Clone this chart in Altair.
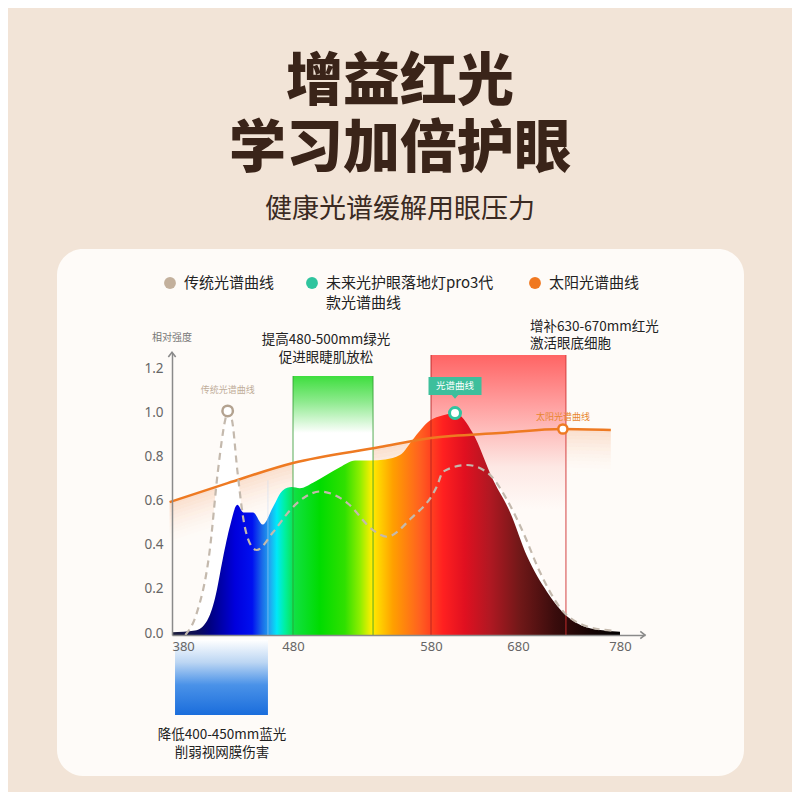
import altair as alt
import pandas as pd

# ---------------- data ----------------
# new lamp spectrum (nm, relative intensity)
lamp_nm = [380, 399, 409, 415.5, 422, 428, 434, 439, 447, 455, 463.5, 471.5, 479, 485, 494.5,
           514, 525, 536, 547, 557.5, 568, 579, 594, 607.6, 628, 651, 671, 689, 708.5, 728,
           747, 765, 780]
lamp_v = [0.012, 0.02, 0.065, 0.165, 0.345, 0.495, 0.59, 0.555, 0.555, 0.5, 0.58, 0.655, 0.67,
          0.665, 0.69, 0.76, 0.79, 0.79, 0.795, 0.815, 0.895, 0.97, 0.995, 1.005, 0.915, 0.705,
          0.555, 0.355, 0.195, 0.085, 0.035, 0.02, 0.015]

# traditional lamp spectrum
trad_nm = [391, 400.5, 411, 418, 424, 426, 429.5, 434, 439, 446, 450, 463.5, 477.5, 488.7,
           499.6, 519, 538, 548, 565, 587, 594, 621, 645, 667, 685, 701.5, 721, 747, 772]
trad_v = [0.0, 0.1, 0.375, 0.745, 0.975, 1.015, 0.975, 0.745, 0.525, 0.4, 0.385, 0.465, 0.565,
          0.625, 0.65, 0.6, 0.475, 0.445, 0.525, 0.675, 0.74, 0.77, 0.735, 0.615, 0.465, 0.285,
          0.125, 0.04, 0.02]

# sunlight spectrum
sun_nm = [378, 426, 480, 543, 580, 659, 724, 771]
sun_v = [0.602, 0.688, 0.779, 0.851, 0.892, 0.915, 0.933, 0.928]

x_ticks = [380, 480, 580, 680, 780]
y_ticks = [0.0, 0.2, 0.4, 0.6, 0.8, 1.0, 1.2]

legend_names = ["传统光谱曲线", ["未来光护眼落地灯pro3代", "款光谱曲线"], "太阳光谱曲线"]
legend_colors = ["#c3b09c", "#2fc49e", "#f07820"]

green_band = (480, 538, 1.173)   # nm from, nm to, top
red_band = (580, 727, 1.268)
blue_band = (382.5, 459.3, -0.022, -0.362)

trad_peak = (426, 1.015)
lamp_peak = (607.6, 1.005)
sun_mark = (724, 0.933)

FONT = "Noto Sans CJK SC"

lamp_df = pd.DataFrame({"nm": lamp_nm, "v": lamp_v})
trad_df = pd.DataFrame({"nm": trad_nm, "v": trad_v})
sun_df = pd.DataFrame({"nm": sun_nm, "v": sun_v})
one = pd.DataFrame({"a": [0]})

# ---------------- scales / axes ----------------
xscale = alt.Scale(domain=[380, 480, 580, 680, 780, 812],
                   range=[164, 285, 423, 510, 612, 637], nice=False, zero=False)
yscale = alt.Scale(domain=[0, 1.28], range=[627, 627 - 1.28 * 220.8], nice=False, zero=False)

xaxis = alt.Axis(values=x_ticks, offset=-157, domainColor="#8a8a8a", domainWidth=1.5,
                 ticks=False, grid=False, title=None, labelFont="Noto Sans",
                 labelFontSize=13, labelColor="#666666", labelPadding=5, format="d", zindex=2)
yaxis = alt.Axis(values=y_ticks, offset=-164, domainColor="#8a8a8a", domainWidth=1.5,
                 ticks=False, grid=False, title=None, labelFont="Noto Sans",
                 labelFontSize=13.5, labelColor="#666666", labelPadding=9, format=".1f",
                 labelOffset=-2, zindex=2)

X = alt.X("nm:Q", scale=xscale, axis=xaxis)
Y = alt.Y("v:Q", scale=yscale, axis=yaxis)


def txt(text, x, y, size, color="#222222", weight="normal", align="center", lh=None):
    kw = dict(text=text, font=FONT, fontSize=size, color=color, fontWeight=weight,
              align=align, baseline="middle")
    if lh:
        kw["lineHeight"] = lh
    return alt.Chart(one).mark_text(**kw).encode(x=alt.value(x), y=alt.value(y))


layers = []

# card
layers.append(alt.Chart(one).mark_rect(cornerRadius=26, color="#fefbf8").encode(
    x=alt.value(49), x2=alt.value(736), y=alt.value(241), y2=alt.value(768)))

# titles
layers.append(txt("增益红光", 392, 75, 57, "#3a2419", 900))
layers.append(txt("学习加倍护眼", 392, 142, 57, "#3a2419", 900))
layers.append(txt("健康光谱缓解用眼压力", 392, 202, 27, "#3a2a22"))

# legend
lx = [162, 304, 527]
for i in range(3):
    layers.append(alt.Chart(one).mark_point(filled=True, size=140, opacity=1,
                                            color=legend_colors[i]).encode(
        x=alt.value(lx[i]), y=alt.value(275)))
    layers.append(txt(legend_names[i], lx[i] + 14, 275, 15, "#222222", align="left", lh=20))

# peach glow below the sun curve
nb = 12
for k in range(nb):
    a, b = 0.016 * k, 0.016 * (k + 1)
    layers.append(alt.Chart(sun_df).transform_calculate(
        v2=f"datum.v - {b}", vt=f"datum.v - {a}").mark_area(
        color="#f8c4a2", opacity=0.5 * (1 - k / nb) ** 1.6, interpolate="monotone").encode(
        x=X, y=alt.Y("vt:Q", scale=yscale, axis=yaxis), y2="v2:Q"))

# green / red / blue highlight boxes
green_df = pd.DataFrame({"nm": [green_band[0]], "nm2": [green_band[1]], "v": [green_band[2]], "v2": [0]})
red_df = pd.DataFrame({"nm": [red_band[0]], "nm2": [red_band[1]], "v": [red_band[2]], "v2": [0]})
blue_df = pd.DataFrame({"nm": [blue_band[0]], "nm2": [blue_band[1]], "v": [blue_band[2]], "v2": [blue_band[3]]})

vgrad = lambda stops: alt.Gradient(gradient="linear", x1=0, y1=0, x2=0, y2=1,
                                   stops=[alt.GradientStop(offset=o, color=c) for o, c in stops])

layers.append(alt.Chart(green_df).mark_rect(color=vgrad([
    (0, "#3ede3e"), (0.1, "#8eea8e"), (0.22, "#ffffff"), (1, "#ffffff")])).encode(
    x=X, x2="nm2:Q", y=Y, y2="v2:Q"))
layers.append(alt.Chart(red_df).mark_rect(color=vgrad([
    (0, "#ff6464"), (0.18, "#ffa0a0"), (0.4, "#fde8e4"), (0.55, "#fffaf7"), (1, "#fffaf7")])).encode(
    x=X, x2="nm2:Q", y=Y, y2="v2:Q"))
layers.append(alt.Chart(blue_df).mark_rect(color=vgrad([
    (0, "#ffffff"), (0.3, "#bcd6f3"), (0.6, "#4a92e8"), (1, "#1a6ddc")])).encode(
    x=X, x2="nm2:Q", y=Y, y2="v2:Q"))

# white under the traditional curve
layers.append(alt.Chart(trad_df).mark_area(color="#ffffff", interpolate="monotone").encode(x=X, y=Y))

# spectrum area
spec_stops = [
    (0.0, "#20203a"), (0.06, "#0a0a5a"), (0.085, "#000080"), (0.141, "#0000dd"),
    (0.179, "#0010f0"), (0.201, "#1a6ae8"), (0.219, "#20a8f0"), (0.234, "#00e8f8"),
    (0.252, "#00f0a0"), (0.275, "#10e040"), (0.33, "#00dc00"), (0.386, "#30e000"),
    (0.42, "#90ee00"), (0.446, "#ffee00"), (0.493, "#ffa000"), (0.554, "#ff6020"),
    (0.605, "#ff2020"), (0.654, "#e01020"), (0.71, "#b01822"), (0.777, "#701818"),
    (0.855, "#3a0c0c"), (0.933, "#160404"), (1.0, "#000000")]
hgrad = alt.Gradient(gradient="linear", x1=0, y1=0, x2=1, y2=0,
                     stops=[alt.GradientStop(offset=o, color=c) for o, c in spec_stops])
layers.append(alt.Chart(lamp_df).mark_area(color=hgrad, interpolate="monotone").encode(x=X, y=Y))

# box outlines
def vline(nm, top, color, bottom=0.0, opacity=1.0, width=1.0):
    d = pd.DataFrame({"nm": [nm], "v": [top], "v2": [bottom]})
    return alt.Chart(d).mark_rule(color=color, strokeWidth=width, opacity=opacity).encode(
        x=X, y=Y, y2="v2:Q")

layers.append(vline(green_band[0], green_band[2], "#2e9a2e", opacity=0.8))
layers.append(vline(green_band[1], green_band[2], "#2e9a2e", opacity=0.8))
layers.append(vline(red_band[0], red_band[2], "#b02020", opacity=0.85))
layers.append(vline(red_band[1], red_band[2], "#d03030", opacity=0.9))
layers.append(vline(blue_band[1], 0.7, "#c8dcf4", bottom=0.0, opacity=0.5))

# sun line
layers.append(alt.Chart(sun_df).mark_line(color="#ee7a22", strokeWidth=2.5,
                                          interpolate="monotone").encode(x=X, y=Y))
# traditional dashed line
layers.append(alt.Chart(trad_df).mark_line(color="#c4b9ad", strokeWidth=2.2, strokeDash=[7, 5],
                                           interpolate="monotone").encode(x=X, y=Y))

# markers
def marker(p, color, size, width):
    d = pd.DataFrame({"nm": [p[0]], "v": [p[1]]})
    return alt.Chart(d).mark_point(shape="circle", filled=True, fill="#ffffff", stroke=color,
                                   strokeWidth=width, size=size, opacity=1).encode(x=X, y=Y)

layers.append(marker(trad_peak, "#b3a290", 110, 2.5))
layers.append(marker(lamp_peak, "#30c4a0", 120, 3))
layers.append(marker(sun_mark, "#ee7a22", 85, 2.5))

# small curve labels
def dtext(nm, v, text, size, color, dy=0):
    d = pd.DataFrame({"nm": [nm], "v": [v]})
    return alt.Chart(d).mark_text(text=text, font=FONT, fontSize=size, color=color,
                                  baseline="middle", dy=dy).encode(x=X, y=Y)

layers.append(dtext(trad_peak[0], 1.11, "传统光谱曲线", 9, "#c0ad98"))
tag_df = pd.DataFrame({"nm": [lamp_peak[0]], "v": [1.128]})
layers.append(alt.Chart(tag_df).mark_point(
    shape="M-1,-0.34 L1,-0.34 L1,0.34 L0.12,0.34 L0,0.48 L-0.12,0.34 L-1,0.34 Z",
    filled=True, color="#3dbf9c", size=2809, opacity=1).encode(x=X, y=Y))
layers.append(dtext(lamp_peak[0], 1.128, "光谱曲线", 9.5, "#ffffff"))
layers.append(dtext(sun_mark[0], 0.987, "太阳光谱曲线", 9, "#e8862e"))

# axis arrows
arrow_r = pd.DataFrame({"nm": [812], "v": [0]})
arrow_u = pd.DataFrame({"nm": [380], "v": [1.28]})
layers.append(alt.Chart(arrow_r).mark_point(shape="M-0.9,-0.7 L0,0 L-0.9,0.7", filled=False,
                                            color="#8a8a8a", strokeWidth=1.6, size=110,
                                            opacity=1).encode(x=X, y=Y))
layers.append(alt.Chart(arrow_u).mark_point(shape="M-0.7,0.9 L0,0 L0.7,0.9", filled=False,
                                            color="#8a8a8a", strokeWidth=1.6, size=110,
                                            opacity=1).encode(x=X, y=Y))

# y axis caption
layers.append(txt("相对强度", 164, 330, 10, "#777777"))

# annotations
layers.append(txt(["提高480-500mm绿光", "促进眼睫肌放松"], 318, 332, 13.5, "#222222", lh=18))
layers.append(txt(["增补630-670mm红光", "激活眼底细胞"], 522, 319, 13.5, "#222222", align="left", lh=17))
layers.append(txt(["降低400-450mm蓝光", "削弱视网膜伤害"], 214, 727, 13.5, "#222222", lh=18))

chart = alt.layer(*layers).properties(
    width=784, height=784, background="#f2e4d7", padding=0,
    autosize=alt.AutoSizeParams(type="none")
).configure_view(stroke=None)

chart.save("out.html", embed_options={"renderer": "svg", "actions": False})
